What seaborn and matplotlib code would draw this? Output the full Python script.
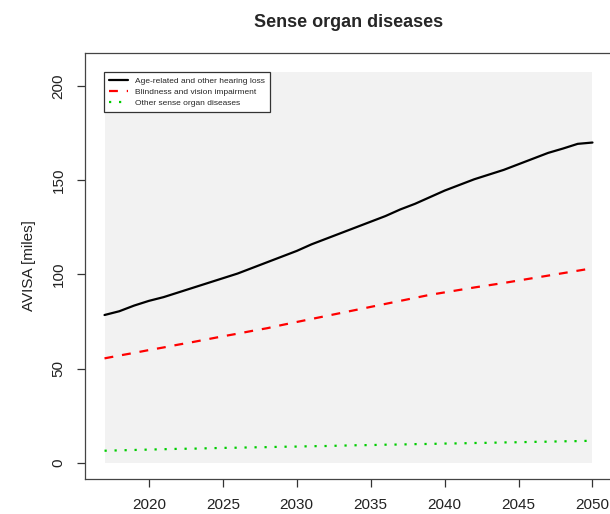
import numpy as np
import pandas as pd
import matplotlib
matplotlib.use("Agg")
import matplotlib.pyplot as plt
from matplotlib.patches import Rectangle
import seaborn as sns

# 数据
years = list(range(2017, 2051))
hearing_loss = [78.5, 80.5, 83.5, 86.0, 88.0, 90.5, 93.0, 95.5, 98.0, 100.5,
                103.5, 106.5, 109.5, 112.5, 116.0, 119.0, 122.0, 125.0, 128.0, 131.0,
                134.5, 137.5, 141.0, 144.5, 147.5, 150.5, 153.0, 155.5, 158.5, 161.5,
                164.5, 166.8, 169.3, 170.0]
blindness = [55.5, 57.0, 58.4, 59.9, 61.3, 62.8, 64.2, 65.7, 67.2, 68.6,
             70.1, 71.5, 73.2, 74.8, 76.4, 78.0, 79.6, 81.2, 82.8, 84.4,
             86.0, 87.6, 89.2, 90.5, 91.8, 93.1, 94.3, 95.5, 96.8, 98.1,
             99.4, 100.7, 102.0, 103.3]
other_sense = [6.5, 6.7, 6.9, 7.1, 7.3, 7.5, 7.6, 7.8, 8.0, 8.1,
               8.3, 8.4, 8.6, 8.7, 8.9, 9.0, 9.2, 9.4, 9.5, 9.7,
               9.8, 10.0, 10.1, 10.3, 10.4, 10.6, 10.7, 10.9, 11.0, 11.2,
               11.3, 11.5, 11.6, 11.8]
labels = ["Age-related and other hearing loss",
          "Blindness and vision impairment",
          "Other sense organ diseases"]
x_ticks = [2020, 2025, 2030, 2035, 2040, 2045, 2050]
y_ticks = [0, 50, 100, 150, 200]
panel_top = 207.5

# 长格式数据
df = pd.DataFrame({
    "year": years * 3,
    "value": hearing_loss + blindness + other_sense,
    "series": [labels[0]] * len(years) + [labels[1]] * len(years) + [labels[2]] * len(years),
})

sns.set_style("ticks")
plt.rcParams['font.family'] = ['Liberation Sans', 'DejaVu Sans']

fig = plt.figure(figsize=(6.10, 5.14), dpi=100)
ax = fig.add_axes([85 / 610, 1 - 479 / 514, 527 / 610, 426 / 514])

# 灰色背景区域
ax.add_patch(Rectangle((years[0], 0), years[-1] - years[0], panel_top,
                       facecolor='#F2F2F2', edgecolor='none', zorder=0))

palette = {labels[0]: 'black', labels[1]: '#FF0000', labels[2]: '#00CD00'}
dashes = {labels[0]: '', labels[1]: (4, 4), labels[2]: (1, 3.5)}
sns.lineplot(data=df, x="year", y="value", hue="series", style="series",
             palette=palette, dashes=dashes, linewidth=1.6, legend=False, ax=ax)

ax.set_xlim(2015.68, 2051.32)
ax.set_ylim(-8.5, 217.5)
ax.set_xticks(x_ticks)
ax.set_yticks(y_ticks)
ax.set_yticklabels([str(v) for v in y_ticks], rotation=90, va='center')
ax.tick_params(axis='both', direction='out', length=6, width=0.9, color='#333333',
               labelsize=11, labelcolor='#222222', pad=8)
for s in ax.spines.values():
    s.set_color('#444444')
    s.set_linewidth(0.9)

ax.set_xlabel("")
ax.set_ylabel("AVISA [miles]", fontsize=11, color='#222222', labelpad=11)
ax.set_title("Sense organ diseases", fontsize=13, fontweight='bold', pad=19)

leg = ax.legend(ax.lines[:3], labels, loc='upper left',
                bbox_to_anchor=(104 / 610, 1 - 72 / 514), bbox_transform=fig.transFigure,
                borderaxespad=0, fontsize=6.0, handlelength=2.3, handletextpad=0.8,
                labelspacing=0.4, fancybox=False, framealpha=1, edgecolor='#333333',
                borderpad=0.6)
leg.get_frame().set_linewidth(0.9)

fig.savefig("out.png", dpi=100)
